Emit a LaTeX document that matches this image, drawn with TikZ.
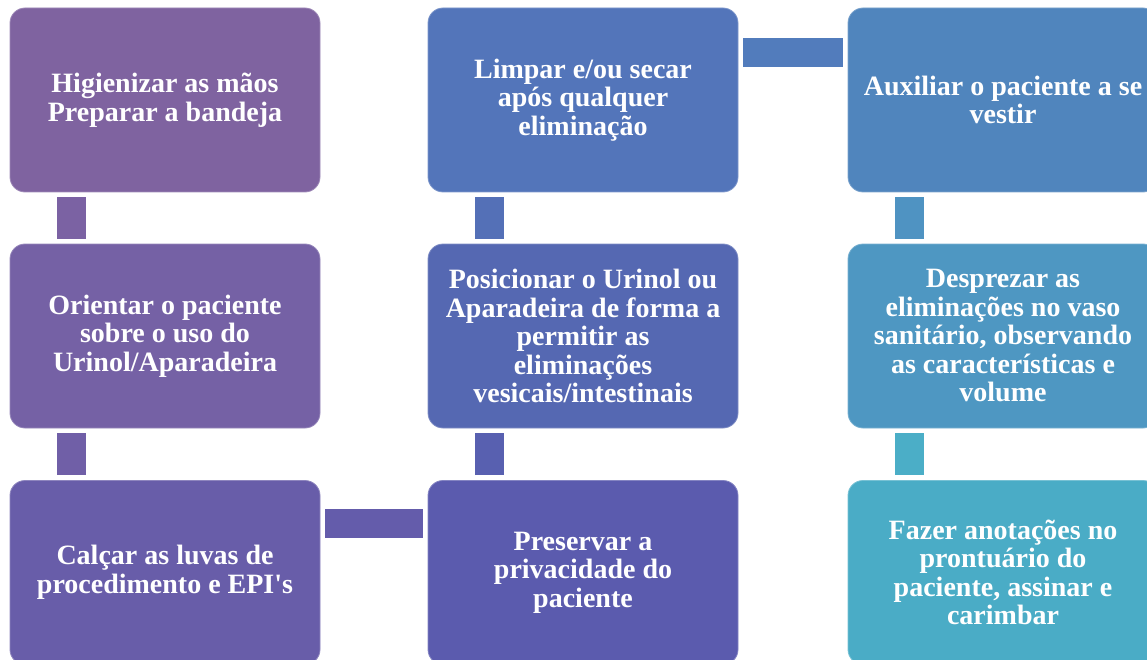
\documentclass[tikz,border=0pt]{standalone}
\usepackage{fontspec}
\setmainfont{Liberation Serif}[Ligatures=TeXOff]
\usetikzlibrary{calc}
\definecolor{cA}{HTML}{7F63A0}
\definecolor{cB}{HTML}{7561A5}
\definecolor{cC}{HTML}{685DA9}
\definecolor{cD}{HTML}{5B5BAE}
\definecolor{cE}{HTML}{5568B2}
\definecolor{cF}{HTML}{5375BA}
\definecolor{cG}{HTML}{5085BD}
\definecolor{cH}{HTML}{4E97C2}
\definecolor{cI}{HTML}{4AACC6}
\definecolor{kAB}{HTML}{7B62A3}
\definecolor{kBC}{HTML}{705FA7}
\definecolor{kCD}{HTML}{645CAB}
\definecolor{kDE}{HTML}{5860B0}
\definecolor{kEF}{HTML}{5470B7}
\definecolor{kFG}{HTML}{527CBC}
\definecolor{kGH}{HTML}{4F93C2}
\definecolor{kHI}{HTML}{4BAEC7}
\tikzset{
  stepbox/.style={rectangle, rounded corners=15pt, minimum width=310pt,
    minimum height=184pt, inner sep=0pt, text=white, align=center,
    fill=#1, draw=#1!75!white, line width=0.8pt,
    font=\bfseries\fontsize{28}{28.5}\selectfont},
  conn/.style={draw=#1, line width=29pt, line cap=butt,
    shorten <=5pt, shorten >=5pt}
}
\begin{document}
\begin{tikzpicture}[x=1pt,y=-1pt]
\useasboundingbox (0,0) rectangle (1147,660);
\clip (0,0) rectangle (1147,660);
\node[stepbox=cA] (a) at (165,100) {Higienizar as mãos\\Preparar a bandeja};
\node[stepbox=cB] (b) at (165,336) {Orientar o paciente\\sobre o uso do\\Urinol/Aparadeira};
\node[stepbox=cC] (c) at (165,572.5) {Calçar as luvas de\\procedimento e EPI's};
\node[stepbox=cD] (d) at (583,572.5) {Preservar a\\privacidade do\\paciente};
\node[stepbox=cE] (e) at (583,336) {Posicionar o Urinol ou\\Aparadeira de forma a\\permitir as\\eliminações\\vesicais/intestinais};
\node[stepbox=cF] (f) at (583,100) {Limpar e/ou secar\\após qualquer\\eliminação};
\node[stepbox=cG] (g) at (1003,100) {Auxiliar o paciente a se\\vestir};
\node[stepbox=cH] (h) at (1003,336) {Desprezar as\\eliminações no vaso\\sanitário, observando\\as características e\\volume};
\node[stepbox=cI] (i) at (1003,572.5) {Fazer anotações no\\prontuário do\\paciente, assinar e\\carimbar};
\draw[conn=kAB] ($(a.south west)+(61.5,0)$) -- ($(b.north west)+(61.5,0)$);
\draw[conn=kBC] ($(b.south west)+(61.5,0)$) -- ($(c.north west)+(61.5,0)$);
\draw[conn=kCD] ($(c.north east)+(0,43.5)$) -- ($(d.north west)+(0,43.5)$);
\draw[conn=kDE] ($(d.north west)+(61.5,0)$) -- ($(e.south west)+(61.5,0)$);
\draw[conn=kEF] ($(e.north west)+(61.5,0)$) -- ($(f.south west)+(61.5,0)$);
\draw[conn=kFG] ($(f.north east)+(0,44.5)$) -- ($(g.north west)+(0,44.5)$);
\draw[conn=kGH] ($(g.south west)+(61.5,0)$) -- ($(h.north west)+(61.5,0)$);
\draw[conn=kHI] ($(h.south west)+(61.5,0)$) -- ($(i.north west)+(61.5,0)$);
\end{tikzpicture}
\end{document}
